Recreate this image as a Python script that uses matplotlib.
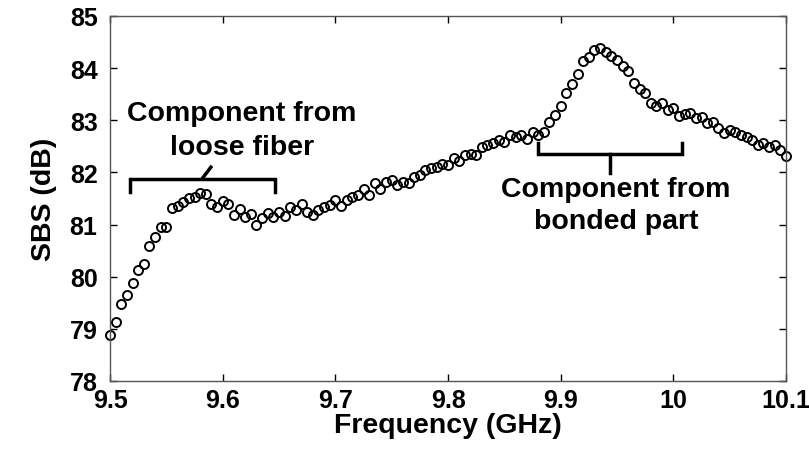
import matplotlib.pyplot as plt
import numpy as np

plt.rcParams['font.family'] = ['Liberation Sans', 'DejaVu Sans']
plt.rcParams['font.weight'] = 'bold'

# frequency axis: 9.5 to 10.1 GHz, 5 MHz step
freq = np.round(np.arange(121) * 0.005 + 9.5, 3)
sbs = [
    78.88, 79.14, 79.48, 79.65, 79.88, 80.12, 80.24, 80.59, 80.76, 80.96,
    80.95, 81.32, 81.36, 81.44, 81.50, 81.53, 81.61, 81.58, 81.40, 81.33,
    81.45, 81.40, 81.19, 81.29, 81.15, 81.20, 81.00, 81.12, 81.22, 81.15,
    81.24, 81.16, 81.34, 81.27, 81.40, 81.24, 81.18, 81.27, 81.34, 81.37,
    81.47, 81.36, 81.47, 81.53, 81.56, 81.68, 81.56, 81.79, 81.69, 81.82,
    81.85, 81.76, 81.82, 81.79, 81.92, 81.95, 82.04, 82.08, 82.11, 82.17,
    82.14, 82.28, 82.21, 82.33, 82.35, 82.33, 82.49, 82.52, 82.56, 82.62,
    82.59, 82.72, 82.67, 82.72, 82.65, 82.78, 82.72, 82.78, 82.96, 83.10,
    83.28, 83.53, 83.70, 83.89, 84.13, 84.22, 84.34, 84.38, 84.31, 84.24,
    84.15, 84.05, 83.95, 83.71, 83.60, 83.52, 83.33, 83.28, 83.33, 83.20,
    83.23, 83.09, 83.12, 83.13, 83.05, 83.07, 82.94, 82.96, 82.85, 82.76,
    82.81, 82.78, 82.72, 82.67, 82.62, 82.52, 82.56, 82.49, 82.52, 82.43,
    82.32,
]

xticks = [9.5, 9.6, 9.7, 9.8, 9.9, 10.0, 10.1]
xticklabels = ['9.5', '9.6', '9.7', '9.8', '9.9', '10', '10.1']
yticks = [78, 79, 80, 81, 82, 83, 84, 85]

fig = plt.figure(figsize=(8.09, 4.52), dpi=100)
ax = fig.add_axes([0.136, 0.155, 0.8356, 0.8074])

ax.plot(freq, sbs, 'o', markerfacecolor='none', markeredgecolor='black',
        markersize=6.5, markeredgewidth=1.4, clip_on=False)

ax.set_xlim(9.5, 10.1)
ax.set_ylim(78, 85)
ax.set_xticks(xticks)
ax.set_xticklabels(xticklabels)
ax.set_yticks(yticks)
ax.tick_params(direction='in', length=5, width=1, top=True, right=True,
               labelsize=18, colors='black')
ax.tick_params(axis='x', pad=5)
ax.tick_params(axis='y', pad=9)
for lab in ax.get_xticklabels() + ax.get_yticklabels():
    lab.set_fontweight('bold')
for s in ax.spines.values():
    s.set_color('#555555')
    s.set_linewidth(1.0)

ax.set_xlabel('Frequency (GHz)', fontsize=20.5, fontweight='bold', labelpad=0)
ax.set_ylabel('SBS (dB)', fontsize=20.5, fontweight='bold', labelpad=9)

# bracket for the loose fiber component
lw = 2.5
ax.plot([9.518, 9.518, 9.646, 9.646], [81.63, 81.87, 81.87, 81.63],
        color='black', lw=lw, solid_joinstyle='miter')
ax.plot([9.5825, 9.5895], [81.90, 82.10], color='black', lw=lw)
ax.text(9.617, 82.82, 'Component from\nloose fiber', ha='center', va='center',
        fontsize=20.5, fontweight='bold', linespacing=1.4)

# bracket for the bonded part component
ax.plot([9.880, 9.880, 10.008, 10.008], [82.56, 82.35, 82.35, 82.56],
        color='black', lw=lw, solid_joinstyle='miter')
ax.plot([9.944, 9.944], [82.35, 81.98], color='black', lw=lw)
ax.text(9.949, 81.375, 'Component from\nbonded part', ha='center', va='center',
        fontsize=20.5, fontweight='bold', linespacing=1.3)

fig.savefig('out.png', dpi=100)
